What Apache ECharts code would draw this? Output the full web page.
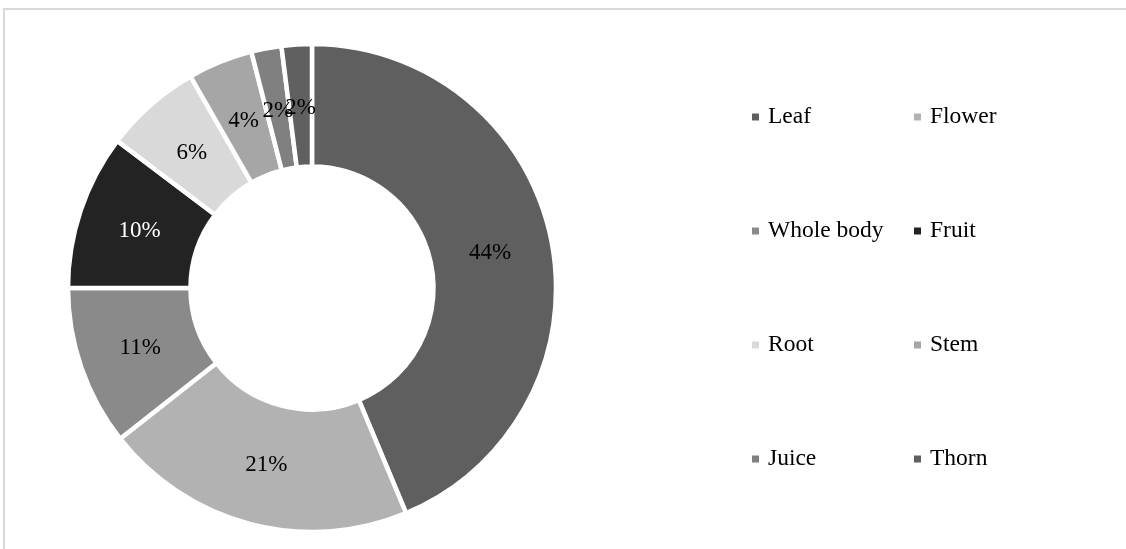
<!DOCTYPE html>
<html>
<head>
<meta charset="utf-8">
<script src="https://cdn.jsdelivr.net/npm/echarts@6/dist/echarts.min.js"></script>
<style>
html,body{margin:0;padding:0;background:#fff;}
#chart{width:1126px;height:549px;}
</style>
</head>
<body>
<div id="chart"></div>
<script>
// Data (percent shares)
const categories = ['Leaf', 'Flower', 'Whole body', 'Fruit', 'Root', 'Stem', 'Juice', 'Thorn'];
const shares = [43.7, 20.7, 10.6, 10.3, 6.4, 4.3, 2.0, 2.0];
const legendLeft = ['Leaf', 'Whole body', 'Root', 'Juice'];
const legendRight = ['Flower', 'Fruit', 'Stem', 'Thorn'];

// Styles
const colors = ['#5f5f5f', '#b2b2b2', '#8a8a8a', '#232323', '#d9d9d9', '#a6a6a6', '#808080', '#606060'];
const labelColors = ['#000', '#000', '#000', '#fff', '#000', '#000', '#000', '#000'];
const FONT = '"Liberation Serif", "Times New Roman", serif';
const CENTER = [312, 288];
const LABEL_INSET = 4;

const chart = echarts.init(document.getElementById('chart'), null, {renderer: 'canvas'});

const pieData = categories.map((name, i) => ({
  name: name,
  value: shares[i],
  itemStyle: {color: colors[i]},
  label: {color: labelColors[i]}
}));

function legendCfg(data, left) {
  return {
    data: data,
    orient: 'vertical',
    left: left,
    top: 105,
    padding: 0,
    itemGap: 90,
    itemWidth: 7,
    itemHeight: 7,
    icon: 'rect',
    selectedMode: false,
    itemStyle: {borderWidth: 0},
    textStyle: {fontFamily: FONT, fontSize: 23.5, color: '#000', lineHeight: 24, padding: [0, 0, 0, 4]}
  };
}

chart.setOption({
  backgroundColor: '#fff',
  animation: false,
  color: colors,
  graphic: [{
    type: 'rect',
    shape: {x: 4, y: 9, width: 1200, height: 600},
    style: {fill: 'none', stroke: '#d9d9d9', lineWidth: 2},
    silent: true
  }],
  legend: [legendCfg(legendLeft, 752), legendCfg(legendRight, 914)],
  series: [{
    type: 'pie',
    center: CENTER,
    radius: [121.5, 244],
    startAngle: 90,
    clockwise: true,
    avoidLabelOverlap: false,
    itemStyle: {borderColor: '#fff', borderWidth: 4.5},
    label: {
      show: true,
      position: 'inside',
      fontFamily: FONT,
      fontSize: 23,
      overflow: 'none',
      formatter: p => Math.round(p.percent) + '%'
    },
    labelLayout: function (p) {
      const r = p.labelRect;
      const cx = r.x + r.width / 2, cy = r.y + r.height / 2;
      const dx = cx - CENTER[0], dy = cy - CENTER[1];
      const d = Math.sqrt(dx * dx + dy * dy) || 1;
      return {
        x: cx - dx / d * LABEL_INSET,
        y: cy - dy / d * LABEL_INSET + 1,
        align: 'center',
        verticalAlign: 'middle',
        hideOverlap: false
      };
    },
    labelLine: {show: false},
    emphasis: {disabled: true},
    data: pieData
  }]
});
</script>
</body>
</html>
